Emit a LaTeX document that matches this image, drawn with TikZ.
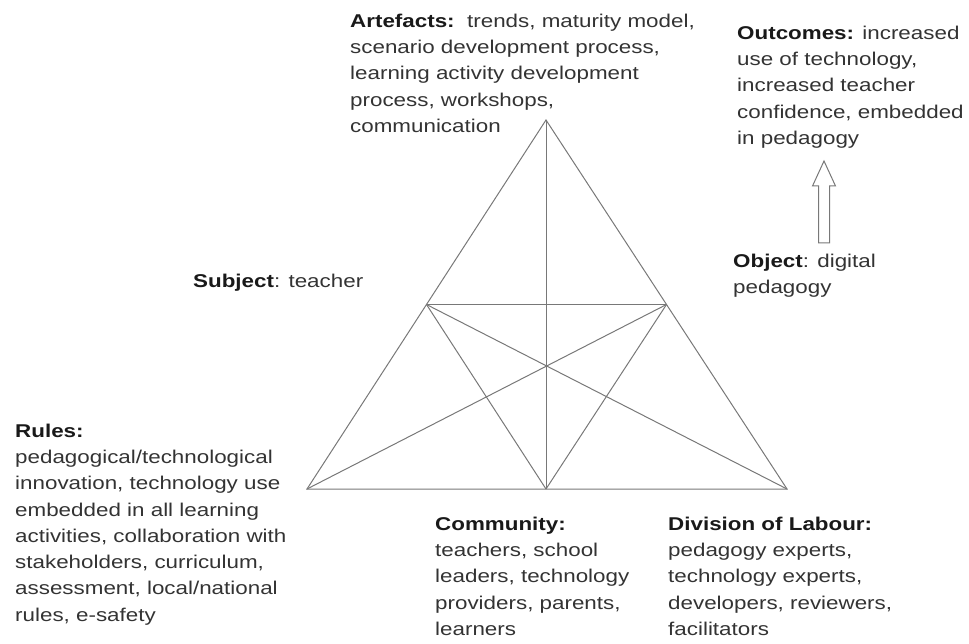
\documentclass[tikz,border=0pt]{standalone}
\usepackage{fontspec}
\setmainfont{Liberation Sans}[FakeStretch=1.21]
\usetikzlibrary{calc}
\definecolor{txtgray}{gray}{0.2}
\definecolor{linegray}{gray}{0.47}
\newcommand{\hd}[1]{\textcolor{black!90}{\textbf{#1}}}
\tikzset{
  label/.style={anchor=north west, inner sep=0pt, align=left, text=txtgray,
    font=\fontsize{18.5}{26.3}\selectfont},
  edge/.style={draw=linegray, line width=1pt}
}

\begin{document}
\begin{tikzpicture}[x=1pt, y=-1pt]
  \useasboundingbox (0,0) rectangle (969,644);

  % Triangle corners
  \coordinate (art) at (546,120);
  \coordinate (rul) at (307,489);
  \coordinate (div) at (787,489);
  \coordinate (com) at (546,489);
  \coordinate (sub) at (426.5,304.5);
  \coordinate (obj) at (666.5,304.5);

  % Outer triangle and inner lines
  \draw[edge] (art) -- (rul) -- (div) -- cycle;
  \draw[edge] (art) -- (com);
  \draw[edge] (sub) -- (obj);
  \draw[edge] (sub) -- (com);
  \draw[edge] (obj) -- (com);
  \draw[edge] (sub) -- (div);
  \draw[edge] (obj) -- (rul);

  % Labels
  \node[label] (artefacts) at (350,13.5) {\hd{Artefacts:}\ \ trends, maturity model,\\scenario development process,\\learning activity development\\process, workshops,\\communication};
  \node[label] (outcomes) at (737,25.5) {\hd{Outcomes:} increased\\use of technology,\\increased teacher\\confidence, embedded\\in pedagogy};
  \node[label] (object) at (733,253.5) {\hd{Object}: digital\\pedagogy};
  \node[label] (subject) at (193,273.5) {\hd{Subject}: teacher};
  \node[label] (rules) at (15,423.5) {\hd{Rules:}\\pedagogical/technological\\innovation, technology use\\embedded in all learning\\activities, collaboration with\\stakeholders, curriculum,\\assessment, local/national\\rules, e-safety};
  \node[label] (community) at (435,516.5) {\hd{Community:}\\teachers, school\\leaders, technology\\providers, parents,\\learners};
  \node[label] (division) at (668,516.5) {\hd{Division of Labour:}\\pedagogy experts,\\technology experts,\\developers, reviewers,\\facilitators};

  % Object to outcomes
  \coordinate (arrbase) at (824,243);
  \coordinate (arrtip) at (824,161);
  \draw[edge, fill=white] ($(arrbase)+(-5.5,0)$) -- ($(arrtip)+(-5.5,25)$) -- ($(arrtip)+(-11.5,25)$)
    -- (arrtip) -- ($(arrtip)+(11.5,25)$) -- ($(arrtip)+(5.5,25)$) -- ($(arrbase)+(5.5,0)$) -- cycle;
\end{tikzpicture}
\end{document}
